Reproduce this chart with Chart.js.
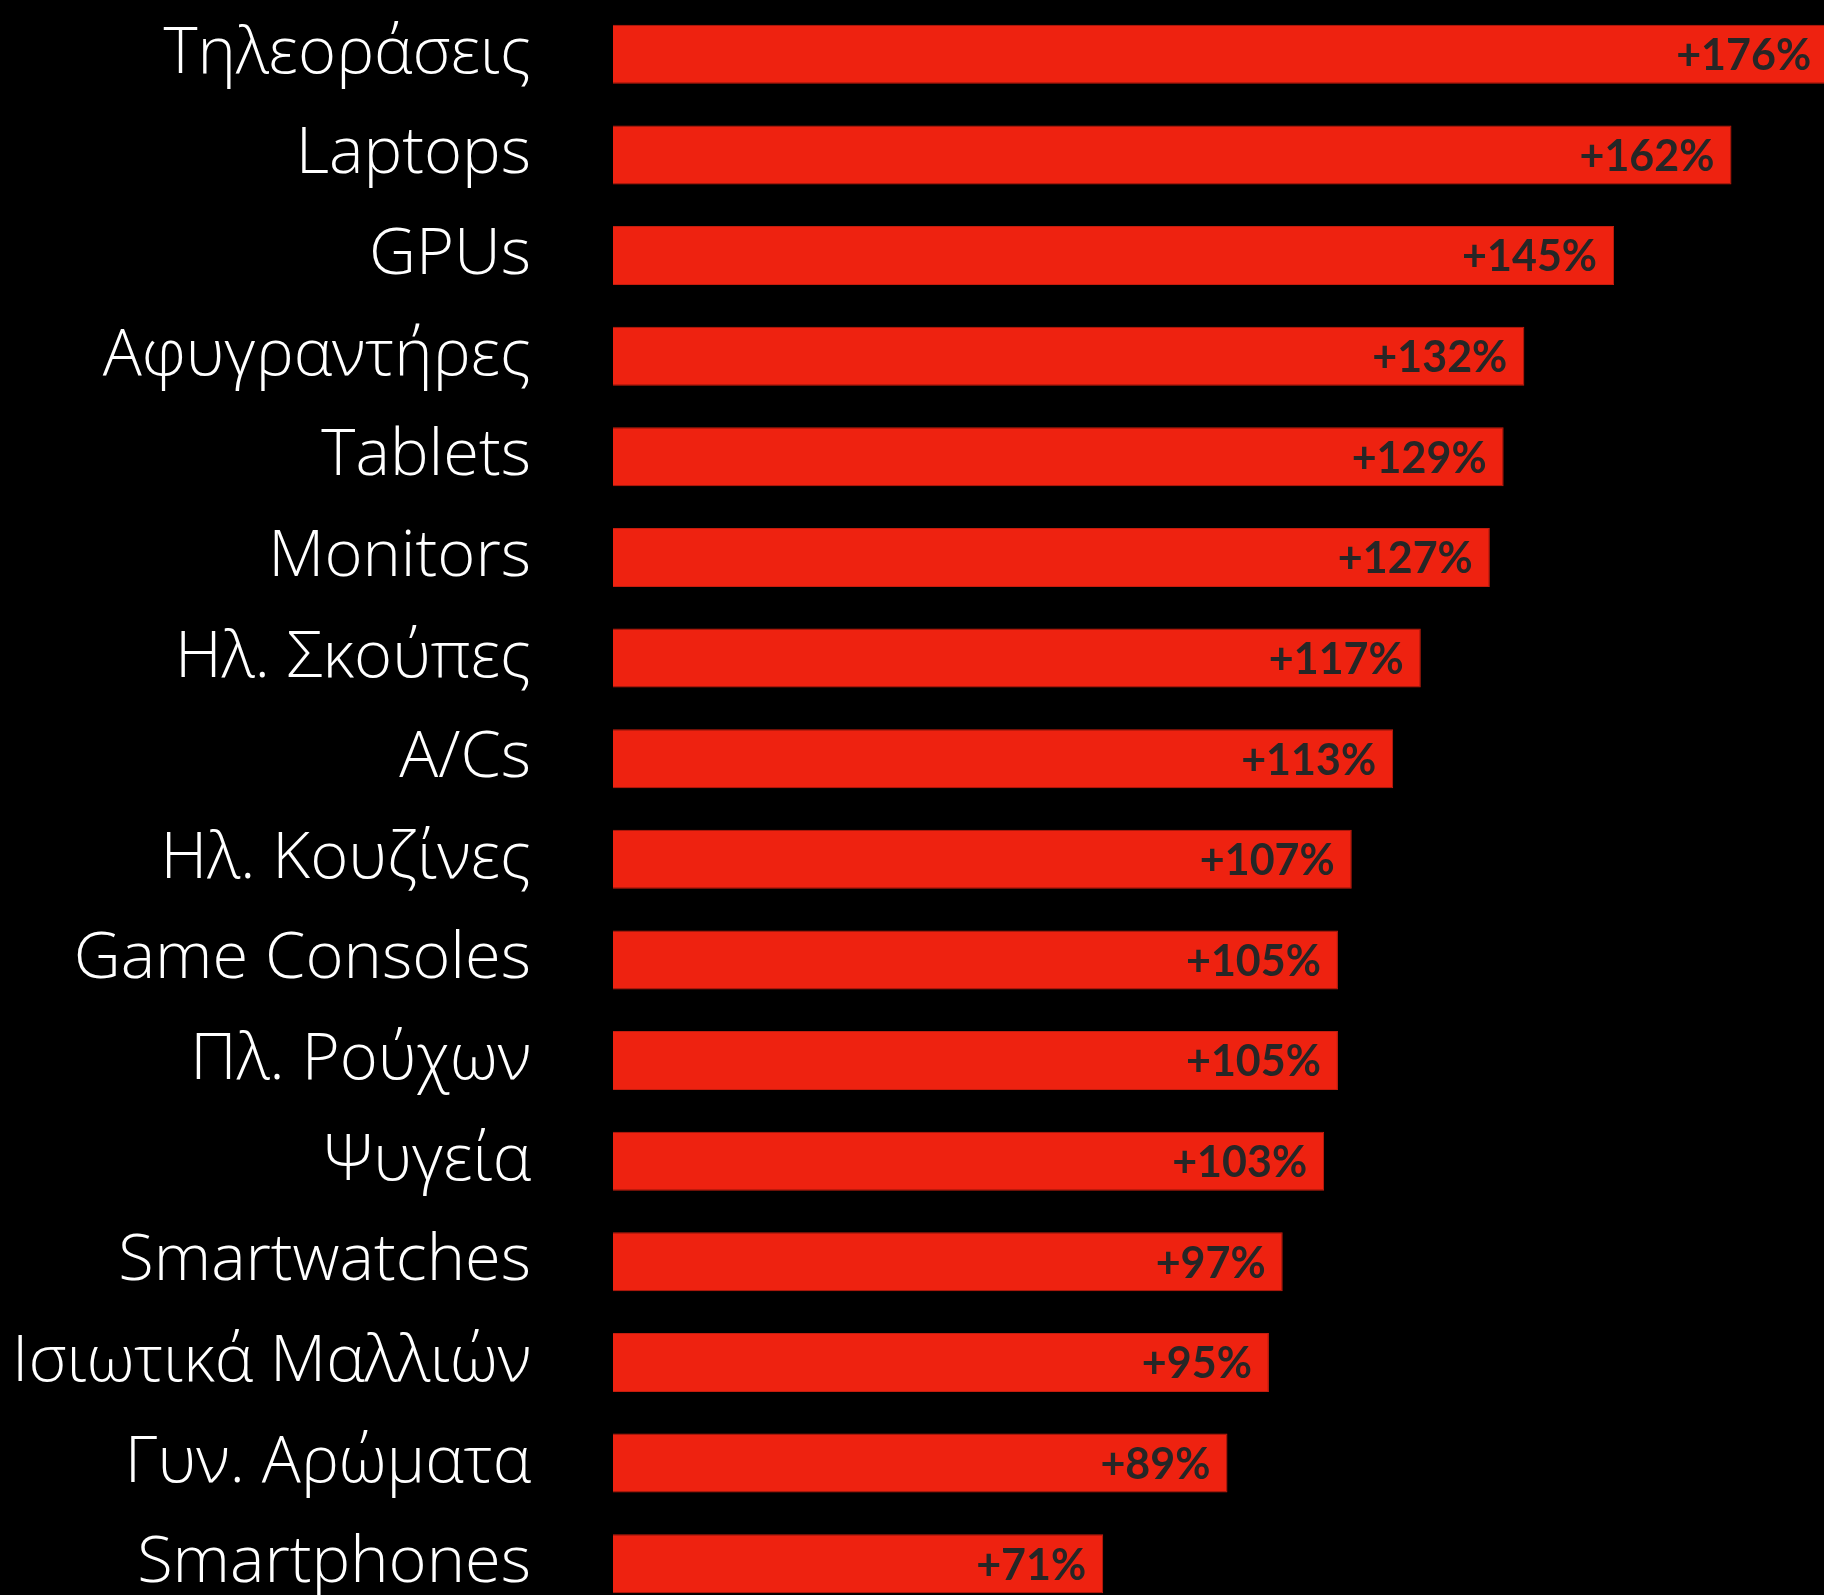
<!DOCTYPE html>
<html>
<head>
<meta charset="utf-8">
<script src="https://cdn.jsdelivr.net/npm/chart.js@4"></script>
<style>
    html, body { margin: 0; padding: 0; background: #000; overflow: hidden; }
    canvas { display: block; }
</style>
</head>
<body>
<canvas id="growthChart" width="1824" height="1620"></canvas>
<script>
const categories = [
    "Τηλεοράσεις", "Laptops", "GPUs", "Αφυγραντήρες", "Tablets", "Monitors",
    "Ηλ. Σκούπες", "A/Cs", "Ηλ. Κουζίνες", "Game Consoles", "Πλ. Ρούχων",
    "Ψυγεία", "Smartwatches", "Ισιωτικά Μαλλιών", "Γυν. Αρώματα", "Smartphones"
];
const growth = [176, 162, 145, 132, 129, 127, 117, 113, 107, 105, 105, 103, 97, 95, 89, 71];
const valueLabels = growth.map(v => "+" + v + "%");

// draws "+176%" etc. just inside the end of each bar
const barValues = {
    id: "barValues",
    afterDatasetsDraw(chart) {
        const ctx = chart.ctx;
        const meta = chart.getDatasetMeta(0);
        ctx.save();
        ctx.font = "bold 43px Lato, 'Open Sans', sans-serif";
        ctx.fillStyle = "#262626";
        ctx.textAlign = "right";
        ctx.textBaseline = "middle";
        meta.data.forEach((bar, i) => {
            ctx.fillText(valueLabels[i], bar.x - 17, bar.y + 2);
        });
        ctx.restore();
    }
};

new Chart(document.getElementById("growthChart"), {
    type: "bar",
    data: {
        labels: categories,
        datasets: [{
            data: growth,
            backgroundColor: "#ee2210",
            borderColor: "#c41d0e",
            borderWidth: 1,
            barPercentage: 0.586,
            categoryPercentage: 1
        }]
    },
    options: {
        indexAxis: "y",
        responsive: false,
        animation: false,
        layout: { padding: { top: 4, bottom: 6, left: 0, right: 0 } },
        plugins: {
            legend: { display: false },
            tooltip: { enabled: false }
        },
        scales: {
            x: {
                display: false,
                min: 0,
                max: 175.4
            },
            y: {
                grid: { display: false, drawTicks: false },
                border: { display: false },
                ticks: {
                    color: "#ffffff",
                    padding: 82,
                    font: { family: "'Open Sans', 'Noto Sans', sans-serif", size: 65, weight: 300 }
                },
                afterFit(scale) {
                    scale.width = 613;
                    scale.paddingTop = 0;
                    scale.paddingBottom = 0;
                }
            }
        }
    },
    plugins: [barValues]
});
</script>
</body>
</html>
